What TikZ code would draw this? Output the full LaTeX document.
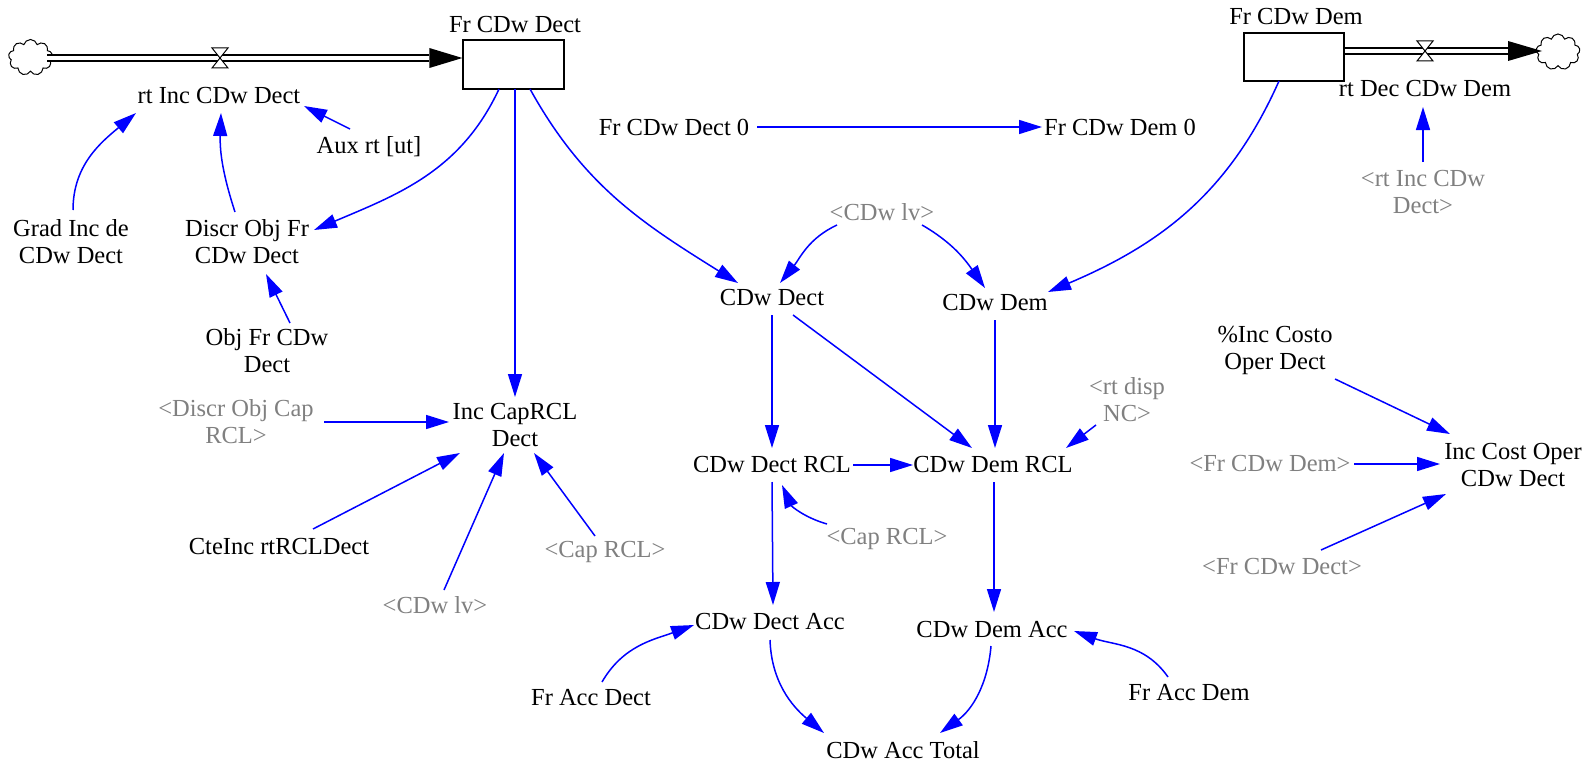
\documentclass[tikz,border=0pt]{standalone}
\usepackage{fontspec}
\setmainfont{Liberation Serif}
\usetikzlibrary{arrows.meta,calc,shapes.symbols}
\definecolor{vblue}{RGB}{0,0,255}
\definecolor{vgray}{RGB}{128,128,128}
\newcommand{\vfs}{\fontsize{24.5}{27}\selectfont}
\begin{document}
\begin{tikzpicture}[x=1pt,y=1pt,
  txt/.style={font=\vfs, align=center, inner sep=1pt},
  ref/.style={txt, text=vgray},
  link/.style={draw=vblue, line width=1.5pt, -{Triangle[length=23pt,width=14pt]}},
  stockbox/.style={draw, line width=1.3pt, minimum width=101pt, minimum height=49pt, inner sep=0pt},
  pipe/.style={double distance=4.5pt, line width=1.5pt},
  cloudn/.style={cloud, cloud puffs=9, draw, line width=1pt, minimum width=44pt, minimum height=36pt, inner sep=0pt},
  valvebox/.style={fill=white, line width=1pt}]
\useasboundingbox (0,0) rectangle (1594,-765);

% stocks and flows
\node[stockbox] (frdect) at (513.5,-64.5) {};
\node[txt] (frdectlbl) at (515,-25) {Fr CDw Dect};
\node[stockbox, minimum width=100pt, minimum height=48pt] (frdem) at (1294,-57) {};
\node[txt] (frdemlbl) at (1296,-17) {Fr CDw Dem};
\node[cloudn] (cloudL) at (30.5,-57.5) {};
\node[cloudn] (cloudR) at (1558,-52) {};

\coordinate (pinL) at ([yshift=6.5pt]frdect.west);
\draw[pipe] (47,0 |- pinL) -- ([xshift=-33pt]pinL);
\fill (pinL) -- ++(-33,10) -- ++(0,-20) -- cycle;
\coordinate (valveL) at (220,-58);
\filldraw[valvebox] (valveL) ++(-8,10) -- ++(16,0) -- ++(-16,-20) -- ++(16,0) -- cycle;

\coordinate (poutR) at ([yshift=6pt]frdem.east);
\coordinate (tipR) at (1542,0 |- poutR);
\draw[pipe] (poutR) -- ([xshift=-34pt]tipR);
\fill (tipR) -- ++(-34,10) -- ++(0,-20) -- cycle;
\coordinate (valveR) at (1425,-51);
\filldraw[valvebox] (valveR) ++(-8,10) -- ++(16,0) -- ++(-16,-20) -- ++(16,0) -- cycle;

% variables
\node[txt] (rtinc) at (219,-96) {rt Inc CDw Dect};
\node[txt] (aux) at (369,-147) {Aux rt [ut]};
\node[txt] (grad) at (71,-241.5) {Grad Inc de\\CDw Dect};
\node[txt] (discr) at (247,-241.5) {Discr Obj Fr\\CDw Dect};
\node[txt] (obj) at (267,-351) {Obj Fr CDw\\Dect};
\node[txt] (incap) at (515,-425) {Inc CapRCL\\Dect};
\node[ref] (discap) at (236,-422) {<Discr Obj Cap\\RCL>};
\node[txt] (cte) at (279,-547) {CteInc rtRCLDect};
\node[ref] (lv2) at (435,-605) {<CDw lv>};
\node[ref] (caprcl1) at (605,-552) {<Cap RCL>};
\node[txt] (frdect0) at (674,-127) {Fr CDw Dect 0};
\node[txt] (frdem0) at (1120,-127) {Fr CDw Dem 0};
\node[ref] (lv1) at (882,-212) {<CDw lv>};
\node[txt] (cdwdect) at (772,-298) {CDw Dect};
\node[txt] (cdwdem) at (995,-303) {CDw Dem};
\node[txt] (dectrcl) at (772,-465) {CDw Dect RCL};
\node[txt] (demrcl) at (993,-465) {CDw Dem RCL};
\node[ref] (rtdisp) at (1127,-400) {<rt disp\\NC>};
\node[ref] (caprcl2) at (887,-539) {<Cap RCL>};
\node[txt] (dectacc) at (770,-622) {CDw Dect Acc};
\node[txt] (demacc) at (992,-630) {CDw Dem Acc};
\node[txt] (total) at (903,-750) {CDw Acc Total};
\node[txt] (fraccdect) at (591,-698) {Fr Acc Dect};
\node[txt] (fraccdem) at (1189,-693) {Fr Acc Dem};
\node[txt] (rtdec) at (1425,-89) {rt Dec CDw Dem};
\node[ref] (rtincref) at (1423,-192) {<rt Inc CDw\\Dect>};
\node[txt] (pctinc) at (1275,-350.5) {\%Inc Costo\\Oper Dect};
\node[txt] (inccost) at (1513,-465) {Inc Cost Oper\\CDw Dect};
\node[ref] (frdemref) at (1270,-464) {<Fr CDw Dem>};
\node[ref] (frdectref) at (1282,-567) {<Fr CDw Dect>};

% connectors
\draw[link] ($(grad)+(2,31.5)$) to[out=90,in=220] ($(rtinc)+(-83,-17)$);
\draw[link] ($(discr)+(-12,29.5)$) to[bend left=10] ($(rtinc)+(2,-17)$);
\draw[link] ($(aux)+(-19,18)$) -- ($(rtinc)+(85,-10)$);
\draw[link] ($(frdect)+(-14.5,-24.5)$) to[out=245,in=23] ($(discr)+(67,11.5)$);
\draw[link] ($(frdect)+(1.5,-24.5)$) -- ($(incap)+(0,28)$);
\draw[link] ($(frdect)+(16.5,-24.5)$) to[out=-61,in=148] ($(cdwdect)+(-34,15)$);
\draw[link] ($(obj)+(23,28)$) -- ($(discr)+(19,-32.5)$);
\draw[link] ($(frdect0)+(83,0)$) -- ($(frdem0)+(-78,0)$);
\draw[link] ($(frdem)+(-15,-24)$) to[out=246,in=23] ($(cdwdem)+(53,11)$);
\draw[link] ($(rtincref)+(0,30)$) -- ($(rtdec)+(-2,-18)$);
\draw[link] ($(lv1)+(-45,-13)$) to[out=205,in=51] ($(cdwdect)+(8,15)$);
\draw[link] ($(lv1)+(40,-13)$) to[out=-30,in=125] ($(cdwdem)+(-10,15)$);
\draw[link] ($(cdwdect)+(0,-17)$) -- ($(dectrcl)+(0,17)$);
\draw[link] ($(cdwdect)+(21,-17)$) -- ($(demrcl)+(-21,17)$);
\draw[link] ($(cdwdem)+(0,-17)$) -- ($(demrcl)+(2,17)$);
\draw[link] ($(dectrcl)+(81,0)$) -- ($(demrcl)+(-80,0)$);
\draw[link] ($(rtdisp)+(-31,-25)$) -- ($(demrcl)+(73,17)$);
\draw[link] ($(caprcl2)+(-60,15)$) to[bend left=25] ($(dectrcl)+(10,-20)$);
\draw[link] ($(dectrcl)+(0,-17)$) -- ($(dectacc)+(3,17)$);
\draw[link] ($(demrcl)+(1,-17)$) -- ($(demacc)+(2,18)$);
\draw[link] ($(fraccdect)+(11,16)$) to[out=60,in=200] ($(dectacc)+(-76,-3)$);
\draw[link] ($(fraccdem)+(-21,16)$) to[out=125,in=-20] ($(demacc)+(82,-1)$);
\draw[link] ($(dectacc)+(0,-18)$) to[out=-88,in=140] ($(total)+(-79,17)$);
\draw[link] ($(demacc)+(-1,-16)$) to[out=-95,in=36] ($(total)+(37,17)$);
\draw[link] ($(discap)+(88,0)$) -- ($(incap)+(-66,3)$);
\draw[link] ($(cte)+(34,18)$) -- ($(incap)+(-55,-28)$);
\draw[link] ($(lv2)+(9,15)$) -- ($(incap)+(-11,-28)$);
\draw[link] ($(caprcl1)+(-10,16)$) -- ($(incap)+(19,-28)$);
\draw[link] ($(pctinc)+(60,-28.5)$) -- ($(inccost)+(-63,31)$);
\draw[link] ($(frdemref)+(84,0)$) -- ($(inccost)+(-73,1)$);
\draw[link] ($(frdectref)+(39,17)$) -- ($(inccost)+(-67,-29)$);
\end{tikzpicture}
\end{document}
